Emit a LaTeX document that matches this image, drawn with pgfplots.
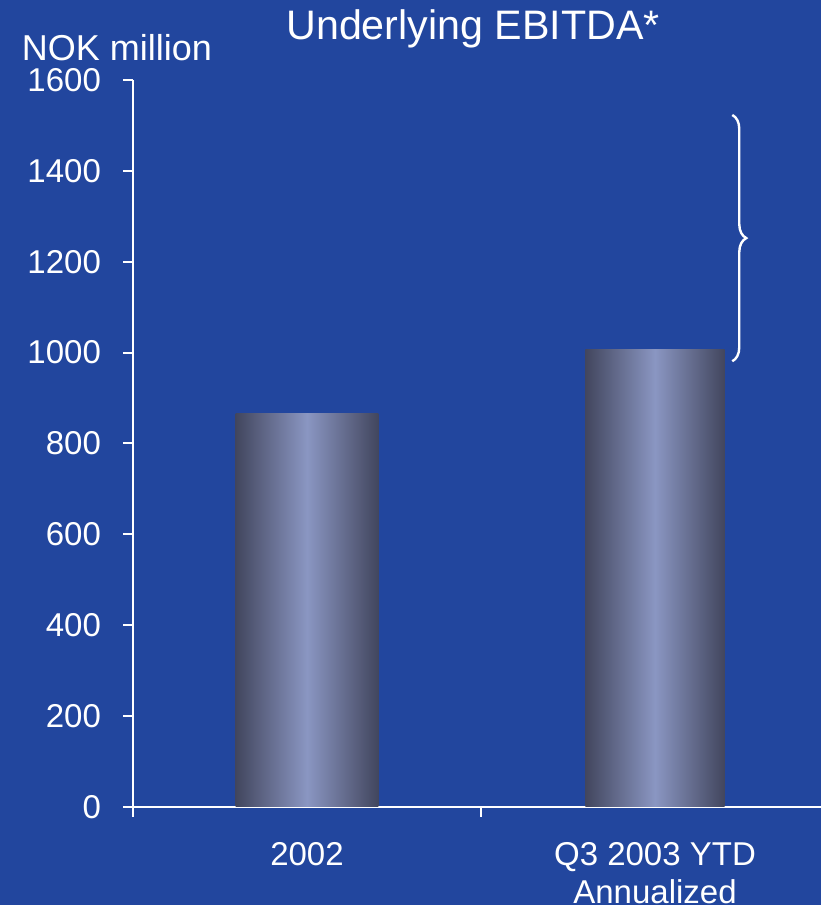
\documentclass[border=0pt]{standalone}
\usepackage{pgfplots}
\pgfplotsset{compat=1.18}
\usepackage{fontspec}
\setmainfont{Liberation Sans}
\usetikzlibrary{decorations.pathreplacing}
\definecolor{bgblue}{RGB}{34,70,158}
\definecolor{bardark}{RGB}{66,70,94}
\definecolor{barlight}{RGB}{138,150,194}
\begin{document}
\begin{tikzpicture}[x=0.25pt,y=0.25pt]
\fill[bgblue] (0,0) rectangle (821,905);
\begin{axis}[
  at={(133*0.25pt,98*0.25pt)}, anchor=south west,
  scale only axis, width=174pt, height=181.75pt,
  xmin=-0.5, xmax=1.5, ymin=0, ymax=1600,
  axis x line*=bottom, axis y line*=left,
  axis line style={white, line width=0.5pt},
  tick align=outside,
  ytick={0,200,...,1600},
  xtick={0,1},
  xticklabels={2002, {Q3 2003 YTD\\Annualized}},
  minor xtick={-0.5,0.5,1.5},
  major x tick style={draw=none},
  minor x tick style={white, line width=0.5pt},
  minor tick length=2.5pt,
  major tick length=2.5pt,
  ytick style={white, line width=0.5pt},
  ticklabel style={white, font=\fontsize{8.25}{9.5}\selectfont},
  xticklabel style={align=center, yshift=-2.8pt},
  yticklabel style={xshift=-2pt},
  /pgf/number format/assume math mode=true,
  /pgf/number format/set thousands separator={},
  clip=false,
  bar shift=0pt,
]
\addplot[ybar, bar width=0.41, draw=none,
  left color=bardark, right color=bardark, middle color=barlight]
  coordinates {(0,865)};
\addplot[ybar, bar width=0.40, draw=none,
  left color=bardark, right color=bardark, middle color=barlight]
  coordinates {(1,1006)};
\draw[white, line width=0.6pt, decorate, decoration={brace, amplitude=3.5pt}]
  (axis cs:1.222,1523) -- (axis cs:1.222,981);
\end{axis}
\node[white, font=\fontsize{10.3}{12}\selectfont] at (473,876) {Underlying EBITDA*};
\node[white, font=\fontsize{9}{11}\selectfont] at (117,857) {NOK million};
\pgfresetboundingbox
\path[use as bounding box] (0,0) rectangle (821,905);
\end{tikzpicture}
\end{document}
